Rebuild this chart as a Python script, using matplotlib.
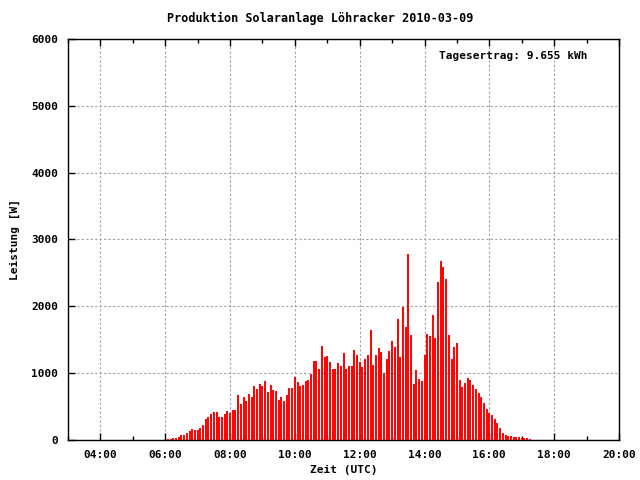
import matplotlib
matplotlib.use("Agg")
import matplotlib.pyplot as plt
import numpy as np
import pandas as pd
from matplotlib.ticker import MultipleLocator, FuncFormatter

# --- data -------------------------------------------------------------
title = "Produktion Solaranlage Löhracker 2010-03-09"
yield_text = "Tagesertrag: 9.655 kWh"
start_time = "06:05"
interval = "5min"
# power in W, one value every 5 minutes, 06:05 .. 17:15
power_w = [
    # 06:05 - 08:15
    20, 20, 35, 35, 50, 80, 80, 110, 140, 170, 155, 155, 185, 230, 320, 350,
    395, 425, 425, 350, 350, 395, 440, 410, 455, 455, 680,
    # 08:20 - 10:45
    540, 645, 585, 690, 645, 810, 765, 840, 810, 885, 720, 825, 750, 735, 600,
    645, 585, 675, 780, 780, 945, 870, 810, 825, 885, 900, 990, 1185, 1185, 1065,
    # 10:50 - 13:10
    1410, 1245, 1260, 1170, 1065, 1065, 1155, 1110, 1305, 1065, 1110, 1110, 1350,
    1275, 1170, 1095, 1215, 1275, 1650, 1125, 1275, 1380, 1320, 1005, 1215, 1335,
    1485, 1395, 1815,
    # 13:15 - 15:40
    1245, 1995, 1695, 2790, 1575, 840, 1050, 915, 885, 1275, 1590, 1560, 1875,
    1530, 2370, 2685, 2595, 2415, 1575, 1215, 1395, 1455, 900, 795, 855, 930,
    900, 825, 765, 705,
    # 15:45 - 17:15
    650, 560, 470, 410, 380, 320, 260, 185, 110, 80, 65, 65, 50, 50, 50, 35, 35,
    35, 20,
]
x_min, x_max = 3, 20
y_min, y_max = 0, 6000

# --- figure -----------------------------------------------------------
plt.rcParams["font.family"] = "DejaVu Sans Mono"
plt.rcParams["font.weight"] = "bold"
plt.rcParams["font.size"] = 8

fig = plt.figure(figsize=(6.4, 4.8), dpi=100)
ax = fig.add_axes([68 / 640, 1 - 440 / 480, (619 - 68) / 640, (440 - 39) / 480])

times = pd.date_range("2010-03-09 " + start_time, periods=len(power_w), freq=interval)
hours = times.hour + times.minute / 60.0

ax.vlines(hours, 0, power_w, colors="#ff0000", linewidth=1.4, zorder=3)

ax.set_xlim(x_min, x_max)
ax.set_ylim(y_min, y_max)

ax.xaxis.set_major_locator(MultipleLocator(2))
ax.xaxis.set_minor_locator(MultipleLocator(1))
ax.yaxis.set_major_locator(MultipleLocator(1000))
ax.xaxis.set_major_formatter(FuncFormatter(lambda v, p: "%02d:00" % int(round(v))))
ax.yaxis.set_major_formatter(FuncFormatter(lambda v, p: "%d" % int(round(v))))

ax.tick_params(axis="x", which="major", direction="in", length=5, width=1, top=True,
               pad=7, labelsize=8)
ax.tick_params(axis="x", which="minor", direction="in", length=3, width=1, top=True)
ax.tick_params(axis="y", which="major", direction="in", length=5, width=1, right=False,
               pad=7, labelsize=8)
for lbl in ax.get_xticklabels() + ax.get_yticklabels():
    lbl.set_fontweight("bold")

ax.grid(True, which="major", color="#a0a0a0", linestyle=(0, (2, 2)), linewidth=0.8, zorder=0)
ax.set_axisbelow(True)
for s in ax.spines.values():
    s.set_linewidth(1)
    s.set_color("black")

ax.set_xlabel("Zeit (UTC)", fontweight="bold", labelpad=4)
ax.set_ylabel("Leistung [W]", fontweight="bold", labelpad=8)
fig.text(0.5, 1 - 18 / 480, title, ha="center", va="center", fontweight="bold", fontsize=8.5)
ax.text(0.942, 0.958, yield_text, transform=ax.transAxes, ha="right", va="center",
        fontweight="bold", fontsize=8, zorder=4)

fig.savefig("out.png", dpi=100)
